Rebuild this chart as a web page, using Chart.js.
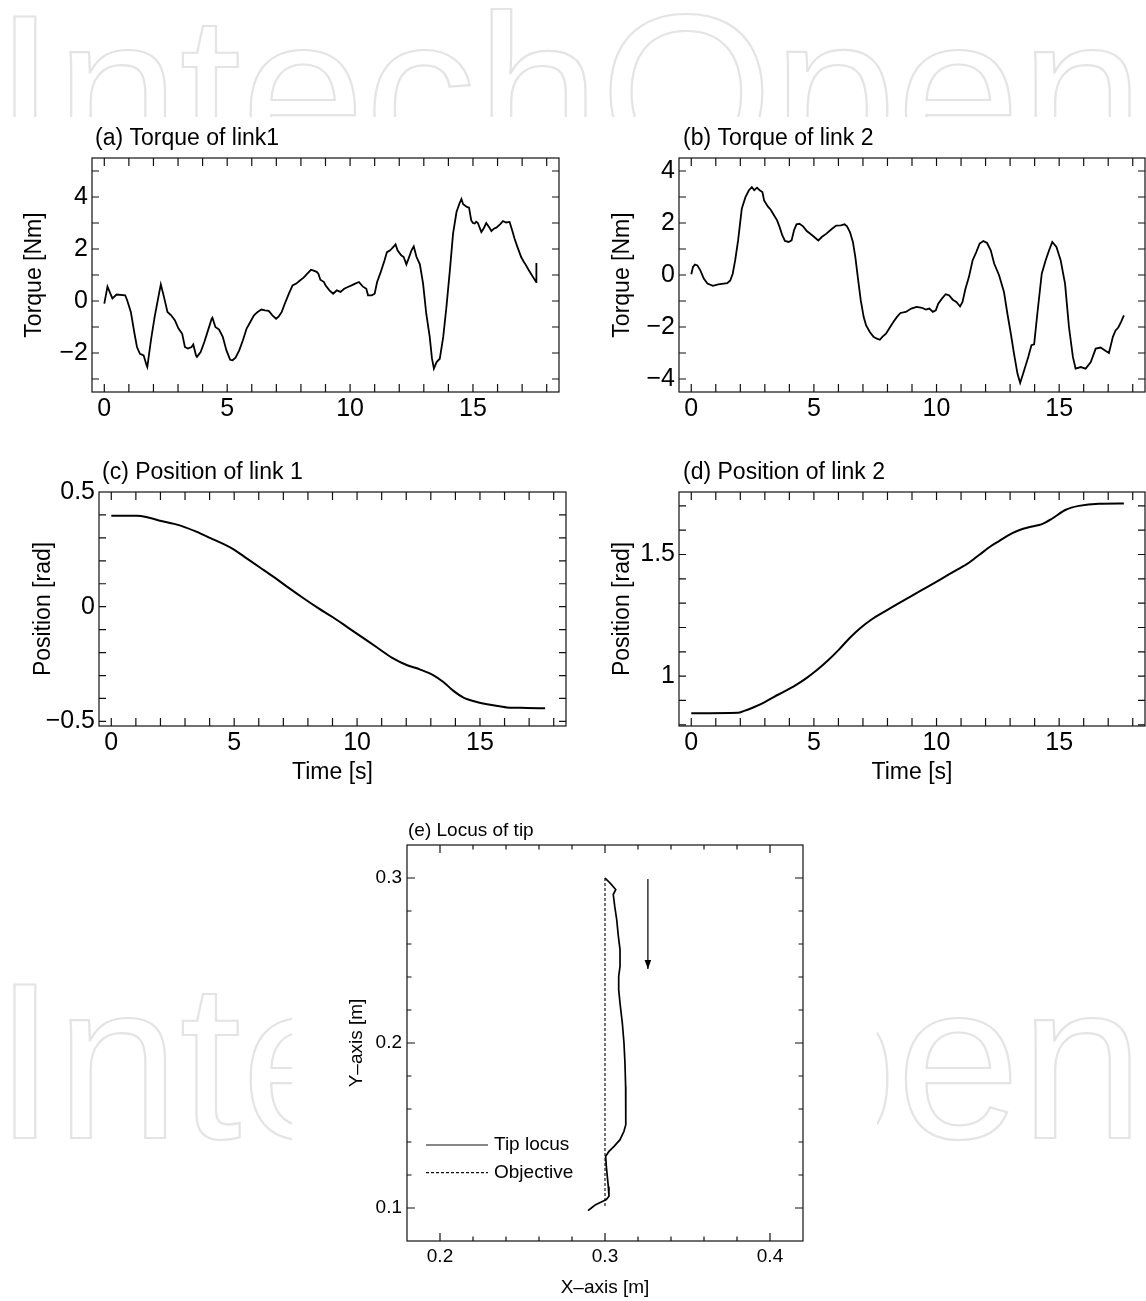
<!DOCTYPE html>
<html>
<head>
<meta charset="utf-8">
<script src="https://cdn.jsdelivr.net/npm/chart.js@4.4.1/dist/chart.umd.min.js"></script>
<style>
  html, body { margin: 0; padding: 0; background: #fff; }
  body { width: 1146px; height: 1301px; position: relative; overflow: hidden; }
  .wm { position: absolute; left: 0; top: 0; }
  .panel { position: absolute; background: #fff; }
  canvas { position: absolute; }
</style>
</head>
<body>
<svg class="wm" width="1146" height="1301">
  <g font-family="Liberation Sans, Arial, sans-serif" font-size="223" fill="#fff" stroke="#e4e4e4" stroke-width="2.2">
    <text x="-6" y="170" textLength="1150" lengthAdjust="spacingAndGlyphs">IntechOpen</text>
    <text x="-6" y="1138" textLength="1150" lengthAdjust="spacingAndGlyphs">IntechOpen</text>
  </g>
</svg>
<div class="panel" style="left:0;top:117px;width:1146px;height:690px"></div>
<div class="panel" style="left:292px;top:807px;width:585px;height:494px"></div>

<canvas id="chartA" width="580" height="320" style="left:0;top:120px"></canvas>
<canvas id="chartB" width="566" height="320" style="left:580px;top:120px"></canvas>
<canvas id="chartC" width="580" height="340" style="left:0;top:450px"></canvas>
<canvas id="chartD" width="566" height="340" style="left:580px;top:450px"></canvas>
<canvas id="chartE" width="585" height="491" style="left:292px;top:810px"></canvas>

<script>
// ---- data ----
const timeA = [0, 0.13, 0.33, 0.5, 0.85, 0.93, 1.08, 1.23, 1.33, 1.45, 1.6, 1.72, 1.75, 1.9, 2.05, 2.2, 2.3, 2.43, 2.57, 2.72,
  2.87, 3.02, 3.17, 3.28, 3.4, 3.55, 3.62, 3.73, 3.77, 3.92, 4.07, 4.22, 4.37, 4.4, 4.52, 4.67, 4.82, 4.97, 5.12, 5.22,
  5.34, 5.49, 5.64, 5.79, 5.94, 6.09, 6.24, 6.39, 6.54, 6.69, 6.84, 6.99, 7.1, 7.22, 7.37, 7.51, 7.66, 7.81, 7.96, 8.11,
  8.26, 8.41, 8.49, 8.64, 8.71, 8.79, 8.94, 9.0, 9.16, 9.31, 9.46, 9.61, 9.76, 9.91, 10.06, 10.21, 10.36, 10.51, 10.66, 10.73,
  10.88, 11.0, 11.1, 11.25, 11.4, 11.5, 11.63, 11.78, 11.85, 11.93, 12.08, 12.18, 12.29, 12.38, 12.5, 12.59, 12.7, 12.84,
  12.97, 13.1, 13.24, 13.33, 13.41, 13.52, 13.65, 13.79, 13.92, 14.06, 14.19, 14.33, 14.45, 14.53, 14.6, 14.66, 14.75, 14.84,
  14.93, 15.0, 15.07, 15.13, 15.2, 15.34, 15.44, 15.54, 15.65, 15.75, 15.85, 15.95, 16.1, 16.22, 16.35, 16.49, 16.6, 16.69,
  16.8, 16.96, 17.06, 17.16, 17.26, 17.36, 17.47, 17.57, 17.58];
const torque1 = [-0.1, 0.55, 0.1, 0.25, 0.22, 0.03, -0.42, -1.26, -1.77, -2.03, -2.09, -2.47, -2.54, -1.5, -0.6, 0.15, 0.64, 0.15, -0.42, -0.55,
  -0.74, -1.06, -1.26, -1.77, -1.83, -1.77, -1.67, -2.09, -2.15, -1.96, -1.58, -1.13, -0.68, -0.64, -1.0, -1.1, -1.38, -1.9, -2.26, -2.28,
  -2.18, -1.9, -1.51, -1.06, -0.81, -0.55, -0.42, -0.33, -0.36, -0.38, -0.55, -0.68, -0.59, -0.42, -0.04, 0.28, 0.6, 0.67, 0.79, 0.9,
  1.05, 1.2, 1.18, 1.12, 1.05, 0.82, 0.73, 0.6, 0.41, 0.28, 0.41, 0.35, 0.47, 0.54, 0.6, 0.67, 0.73, 0.56, 0.47, 0.22,
  0.22, 0.28, 0.73, 1.12, 1.56, 1.88, 1.95, 2.1, 2.18, 1.95, 1.76, 1.69, 1.41, 1.63, 1.95, 2.1, 1.7, 1.41,
  0.67, -0.49, -1.38, -2.2, -2.6, -2.35, -2.22, -1.38, -0.23, 1.18, 2.59, 3.42, 3.75, 3.92, 3.72, 3.68, 3.62, 3.59,
  3.1, 3.0, 2.98, 3.05, 3.0, 2.65, 2.8, 3.0, 2.85, 2.69, 2.78, 2.82, 2.95, 3.07, 3.02, 3.04, 2.7, 2.4,
  2.1, 1.69, 1.52, 1.37, 1.2, 1.05, 0.88, 0.73, 1.46];

const timeB = [0, 0.07, 0.15, 0.25, 0.37, 0.51, 0.66, 0.88, 1.1, 1.32, 1.47, 1.59, 1.69, 1.79, 1.91, 2.06, 2.21, 2.35, 2.47, 2.57,
  2.68, 2.79, 2.9, 2.97, 3.12, 3.24, 3.38, 3.5, 3.6, 3.71, 3.82, 3.97, 4.09, 4.19, 4.29, 4.41, 4.56, 4.71, 4.93, 5.18,
  5.32, 5.51, 5.74, 5.91, 6.1, 6.25, 6.35, 6.47, 6.59, 6.69, 6.79, 6.91, 7.03, 7.13, 7.28, 7.43, 7.57, 7.69, 7.79, 7.94,
  8.09, 8.24, 8.38, 8.53, 8.75, 8.97, 9.19, 9.41, 9.56, 9.71, 9.85, 9.97, 10.07, 10.22, 10.37, 10.51, 10.66, 10.81, 10.96, 11.06,
  11.18, 11.32, 11.47, 11.62, 11.76, 11.91, 12.06, 12.21, 12.35, 12.55, 12.75, 12.89, 13.03, 13.16, 13.3, 13.41, 13.57, 13.74, 13.87, 13.98,
  14.11, 14.29, 14.45, 14.59, 14.72, 14.89, 15.06, 15.24, 15.4, 15.56, 15.67, 15.88, 16.08, 16.29, 16.49, 16.69, 16.87, 17.03, 17.19, 17.3,
  17.41, 17.52, 17.64];
const torque2 = [0.03, 0.31, 0.4, 0.37, 0.18, -0.14, -0.33, -0.42, -0.36, -0.33, -0.31, -0.21, 0.05, 0.56, 1.33, 2.55, 3.0, 3.26, 3.38, 3.26,
  3.36, 3.26, 3.19, 2.87, 2.64, 2.51, 2.29, 2.1, 1.85, 1.53, 1.31, 1.27, 1.33, 1.72, 1.95, 1.97, 1.87, 1.69, 1.53, 1.33,
  1.46, 1.59, 1.78, 1.9, 1.91, 1.95, 1.87, 1.65, 1.27, 0.69, -0.08, -0.97, -1.62, -1.94, -2.19, -2.38, -2.45, -2.49, -2.38, -2.26,
  -2.03, -1.81, -1.62, -1.46, -1.42, -1.29, -1.23, -1.26, -1.33, -1.29, -1.42, -1.36, -1.1, -0.91, -0.74, -0.78, -0.95, -1.04, -1.21, -1.04,
  -0.53, -0.08, 0.56, 0.88, 1.21, 1.31, 1.23, 0.95, 0.44, -0.01, -0.65, -1.49, -2.26, -3.03, -3.79, -4.15, -3.67, -3.15, -2.7, -2.67,
  -1.49, 0.05, 0.57, 0.95, 1.27, 1.08, 0.57, -0.33, -2.0, -3.15, -3.6, -3.54, -3.6, -3.35, -2.83, -2.79, -2.9, -3.0, -2.38, -2.13,
  -2.02, -1.81, -1.55];

const timeC = [0, 1.05, 1.5, 2.03, 2.56, 3.01, 3.46, 4.06, 4.51, 4.96, 5.42, 6.02, 6.62, 7.22, 7.82, 8.42,
  9.03, 9.63, 10.23, 10.83, 11.43, 12.04, 12.57, 13.11, 13.51, 13.92, 14.33, 14.87, 15.55, 16.09, 16.9, 17.65];
const position1 = [0.397, 0.397, 0.389, 0.374, 0.361, 0.346, 0.327, 0.298, 0.276, 0.251, 0.217, 0.173, 0.129, 0.082, 0.037, -0.006,
  -0.047, -0.091, -0.135, -0.179, -0.223, -0.255, -0.274, -0.299, -0.328, -0.367, -0.396, -0.415, -0.43, -0.439, -0.441, -0.443];

const timeD = [0, 1.91, 2.13, 2.5, 2.94, 3.38, 3.82, 4.26, 4.71, 5.15, 5.59, 6.03, 6.47, 6.91, 7.35, 7.79, 8.38,
  8.97, 9.56, 10.15, 10.74, 11.32, 11.76, 12.21, 12.55, 13.09, 13.5, 13.9, 14.3, 14.72, 15.27, 15.8, 16.62, 17.64];
const position2 = [0.847, 0.849, 0.856, 0.87, 0.89, 0.915, 0.938, 0.963, 0.993, 1.027, 1.066, 1.11, 1.158, 1.199, 1.233, 1.26, 1.295,
  1.329, 1.363, 1.397, 1.432, 1.466, 1.5, 1.534, 1.555, 1.588, 1.605, 1.615, 1.625, 1.648, 1.684, 1.7, 1.709, 1.71];

const tipX = [0.3, 0.3034, 0.3065, 0.305, 0.3059, 0.3071, 0.3081, 0.3091, 0.3091, 0.3083, 0.3083, 0.3091, 0.3105, 0.3115, 0.3121, 0.3125,
  0.3127, 0.3125, 0.3115, 0.3091, 0.3055, 0.3024, 0.3004, 0.3008, 0.3014, 0.302, 0.3024, 0.3008, 0.2984, 0.2943, 0.2917, 0.2897];
const tipY = [0.3, 0.2966, 0.293, 0.29, 0.2828, 0.2747, 0.2646, 0.2566, 0.2465, 0.2404, 0.2323, 0.2242, 0.2121, 0.2, 0.1879, 0.1737,
  0.1596, 0.1505, 0.1465, 0.1414, 0.1374, 0.1343, 0.1313, 0.1253, 0.1192, 0.1131, 0.1071, 0.1051, 0.104, 0.102, 0.1, 0.0984];
const objectiveX = [0.3, 0.3];
const objectiveY = [0.3, 0.1];
const arrowX = [0.326, 0.326];
const arrowY = [0.2994, 0.2448];

// tick labels
const timeTicks = [0, 5, 10, 15];
const torque1Ticks = [-2, 0, 2, 4];
const torque2Ticks = [-4, -2, 0, 2, 4];
const pos1Ticks = [-0.5, 0, 0.5];
const pos2Ticks = [1, 1.5];
const locusXTicks = [0.2, 0.3, 0.4];
const locusYTicks = [0.1, 0.2, 0.3];

const FONT = '"Liberation Sans", Arial, Helvetica, sans-serif';
Chart.defaults.font.family = FONT;
Chart.defaults.color = '#000';

const fmt = v => (v < 0 ? '\u2212' + (-v) : String(v));
const pts = (xs, ys) => xs.map((x, i) => ({ x: x, y: ys[i] }));

// box, inward ticks on four sides, panel title, legend and arrow head
const framePlugin = {
  id: 'frame',
  afterDatasetsDraw(chart, _args, o) {
    const { ctx, chartArea: a, scales: { x, y } } = chart;
    const steps = (lo, hi, st) => {
      const r = [];
      for (let k = Math.ceil(lo / st - 1e-6); k * st <= hi + 1e-9; k++) r.push(k * st);
      return r;
    };
    const major = (v, list) => list.some(m => Math.abs(m - v) < 1e-6);
    ctx.save();
    ctx.strokeStyle = '#111';
    ctx.lineWidth = 1.2;
    ctx.beginPath();
    steps(x.min, x.max, o.xStep).forEach(v => {
      const p = x.getPixelForValue(v);
      if (p < a.left + 1 || p > a.right - 1) return;
      const len = major(v, o.xMajor) ? o.xLen[0] : o.xLen[1];
      ctx.moveTo(p, a.bottom); ctx.lineTo(p, a.bottom - len);
      ctx.moveTo(p, a.top); ctx.lineTo(p, a.top + len);
    });
    steps(y.min, y.max, o.yStep).forEach(v => {
      const p = y.getPixelForValue(v);
      if (p < a.top + 1 || p > a.bottom - 1) return;
      const len = major(v, o.yMajor) ? o.yLen[0] : o.yLen[1];
      ctx.moveTo(a.left, p); ctx.lineTo(a.left + len, p);
      ctx.moveTo(a.right, p); ctx.lineTo(a.right - len, p);
    });
    ctx.stroke();
    ctx.strokeRect(a.left, a.top, a.right - a.left, a.bottom - a.top);

    ctx.fillStyle = '#000';
    ctx.font = o.titleSize + 'px ' + FONT;
    ctx.textBaseline = 'alphabetic';
    ctx.textAlign = 'left';
    ctx.fillText(o.title, a.left + o.titleDx, a.top - o.titleDy);

    chart.data.datasets.forEach((ds, i) => {
      if (!ds.arrowHead) return;
      const el = chart.getDatasetMeta(i).data;
      const tip = el[el.length - 1], base = el[el.length - 2];
      const ang = Math.atan2(tip.y - base.y, tip.x - base.x);
      ctx.save();
      ctx.translate(tip.x, tip.y);
      ctx.rotate(ang);
      ctx.beginPath();
      ctx.moveTo(0, 0); ctx.lineTo(-9, -3.3); ctx.lineTo(-9, 3.3); ctx.closePath();
      ctx.fillStyle = '#000';
      ctx.fill();
      ctx.restore();
    });

    if (o.legend) {
      ctx.font = o.legendSize + 'px ' + FONT;
      ctx.textBaseline = 'middle';
      chart.data.datasets.filter(ds => ds.label).forEach((ds, k) => {
        const yy = a.bottom - o.legend.bottom + k * o.legend.gap;
        ctx.beginPath();
        ctx.setLineDash(ds.borderDash || []);
        ctx.lineWidth = 1.2;
        ctx.moveTo(a.left + o.legend.x0, yy); ctx.lineTo(a.left + o.legend.x1, yy);
        ctx.stroke();
        ctx.setLineDash([]);
        ctx.fillText(ds.label, a.left + o.legend.tx, yy);
      });
    }
    ctx.restore();
  }
};

function plotPanel(id, o) {
  const el = document.getElementById(id);
  return new Chart(el.getContext('2d'), {
    type: 'scatter',
    data: { datasets: o.datasets },
    options: {
      responsive: false,
      animation: false,
      events: [],
      layout: { padding: o.pad },
      plugins: { legend: { display: false }, tooltip: { enabled: false }, frame: o.frame },
      scales: {
        x: {
          type: 'linear', min: o.x.min, max: o.x.max,
          grid: { display: false, drawTicks: false }, border: { display: false },
          afterBuildTicks: s => { s.ticks = o.x.ticks.map(v => ({ value: v })); },
          afterFit: s => { s.height = o.x.size; },
          ticks: { font: { size: o.tickSize }, padding: o.x.pad, callback: fmt, autoSkip: false, maxRotation: 0 },
          title: o.x.title
            ? { display: true, text: o.x.title, font: { size: o.titleSize }, padding: { top: 0, bottom: o.x.titlePad } }
            : { display: false }
        },
        y: {
          type: 'linear', min: o.y.min, max: o.y.max,
          grid: { display: false, drawTicks: false }, border: { display: false },
          afterBuildTicks: s => { s.ticks = o.y.ticks.map(v => ({ value: v })); },
          afterFit: s => { s.width = o.y.size; },
          ticks: { font: { size: o.tickSize }, padding: o.y.pad, callback: fmt, autoSkip: false },
          title: { display: true, text: o.y.title, font: { size: o.titleSize }, padding: { top: o.y.titlePad, bottom: 0 } }
        }
      }
    },
    plugins: [framePlugin]
  });
}

const curve = (data, w, extra) => Object.assign({ data: data, showLine: true, borderColor: '#000', borderWidth: w, pointRadius: 0, tension: 0 }, extra || {});
const bigFrame = (title, dx, dy, xMajor, yMajor, yStep) => ({
  title: title, titleSize: 23, titleDx: dx, titleDy: dy,
  xStep: 1, xMajor: xMajor, xLen: [8, 8], yStep: yStep, yMajor: yMajor, yLen: [7, 7]
});

plotPanel('chartA', {
  datasets: [curve(pts(timeA, torque1), 1.8)],
  pad: { left: 0, top: 38, right: 21, bottom: 0 },
  tickSize: 25, titleSize: 23,
  x: { min: -0.5, max: 18.5, ticks: timeTicks, size: 48, pad: 2 },
  y: { min: -3.5, max: 5.5, ticks: torque1Ticks, size: 92, pad: 4, title: 'Torque [Nm]', titlePad: 21 },
  frame: bigFrame('(a) Torque of link1', 3, 13, timeTicks, torque1Ticks, 1)
});

plotPanel('chartB', {
  datasets: [curve(pts(timeB, torque2), 1.8)],
  pad: { left: 0, top: 38, right: 1, bottom: 0 },
  tickSize: 25, titleSize: 23,
  x: { min: -0.5, max: 18.5, ticks: timeTicks, size: 48, pad: 2 },
  y: { min: -4.5, max: 4.5, ticks: torque2Ticks, size: 99, pad: 4, title: 'Torque [Nm]', titlePad: 29 },
  frame: bigFrame('(b) Torque of link 2', 4, 13, timeTicks, torque2Ticks, 1)
});

plotPanel('chartC', {
  datasets: [curve(pts(timeC, position1), 2, { cubicInterpolationMode: 'monotone' })],
  pad: { left: 0, top: 42, right: 14, bottom: 0 },
  tickSize: 25, titleSize: 23,
  x: { min: -0.5, max: 18.5, ticks: timeTicks, size: 64, pad: 2.5, title: 'Time [s]', titlePad: 4 },
  y: { min: -0.52, max: 0.5, ticks: pos1Ticks, size: 99, pad: 4, title: 'Position [rad]', titlePad: 30 },
  frame: bigFrame('(c) Position of link 1', 3, 13, timeTicks, pos1Ticks, 0.1)
});

plotPanel('chartD', {
  datasets: [curve(pts(timeD, position2), 2, { cubicInterpolationMode: 'monotone' })],
  pad: { left: 0, top: 42, right: 1, bottom: 0 },
  tickSize: 25, titleSize: 23,
  x: { min: -0.5, max: 18.5, ticks: timeTicks, size: 64, pad: 2.5, title: 'Time [s]', titlePad: 4 },
  y: { min: 0.795, max: 1.757, ticks: pos2Ticks, size: 99, pad: 4, title: 'Position [rad]', titlePad: 29 },
  frame: bigFrame('(d) Position of link 2', 4, 13, timeTicks, pos2Ticks, 0.1)
});

plotPanel('chartE', {
  datasets: [
    curve(pts(tipX, tipY), 1.7, { label: 'Tip locus' }),
    curve(pts(objectiveX, objectiveY), 1.1, { label: 'Objective', borderDash: [3, 2] }),
    curve(pts(arrowX, arrowY), 1.2, { arrowHead: true })
  ],
  pad: { left: 0, top: 35, right: 74, bottom: 0 },
  tickSize: 19, titleSize: 19,
  x: { min: 0.18, max: 0.42, ticks: locusXTicks, size: 60, pad: 4, title: 'X\u2013axis [m]', titlePad: 1.5 },
  y: { min: 0.08, max: 0.32, ticks: locusYTicks, size: 115, pad: 5, title: 'Y\u2013axis [m]', titlePad: 53 },
  frame: {
    title: '(e) Locus of tip', titleSize: 19, titleDx: 1, titleDy: 9,
    xStep: 0.02, xMajor: locusXTicks, xLen: [8, 4.5], yStep: 0.02, yMajor: locusYTicks, yLen: [8, 4.5],
    legendSize: 19, legend: { x0: 19, x1: 81, tx: 87, bottom: 96, gap: 27.7 }
  }
});
</script>
</body>
</html>
